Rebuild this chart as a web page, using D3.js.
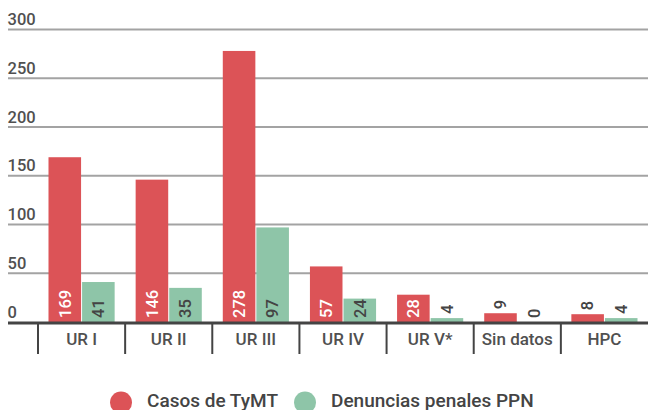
<!DOCTYPE html>
<html>
<head>
<meta charset="utf-8">
<script src="https://cdn.jsdelivr.net/npm/d3@7"></script>
<style>
body{margin:0;background:#fff;}
svg{font-family:Roboto,sans-serif;}
</style>
</head>
<body>
<div id="chart"></div>
<script>
var categories = ["UR I","UR II","UR III","UR IV","UR V*","Sin datos","HPC"];
var casos = [169,146,278,57,28,9,8];
var denuncias = [41,35,97,24,4,0,4];
var seriesNames = ["Casos de TyMT","Denuncias penales PPN"];
var yTicks = [0,50,100,150,200,250,300];

var colors = ["#dc5357","#8ec5a8"];

var W = 648, H = 410;
var svg = d3.select("#chart").append("svg").attr("width",W).attr("height",H);

var y = d3.scaleLinear().domain([0,300]).range([322,29.5]);
var x = d3.scaleBand().domain(categories).range([38,648]).paddingInner(0).paddingOuter(0);
var xs = d3.scaleBand().domain([0,1]).range([10.5,x.bandwidth()-10.5]).paddingInner(0.03);

// gridlines + labels
var grid = svg.append("g");
yTicks.forEach(function(t){
  if(t>0){
    grid.append("line").attr("x1",8).attr("x2",W).attr("y1",y(t)).attr("y2",y(t))
      .attr("stroke","#a3a3a3").attr("stroke-width",2);
  }
  grid.append("text").attr("x",7.5).attr("y",y(t)-4.5).text(t)
    .attr("font-size",16.5).attr("font-weight",500).attr("fill","#505050");
});

// bars
var data = categories.map(function(c,i){ return {cat:c, vals:[casos[i],denuncias[i]]}; });
var groups = svg.append("g").selectAll("g").data(data).enter().append("g")
  .attr("transform",function(d){ return "translate("+x(d.cat)+",0)"; });

groups.each(function(d){
  var g = d3.select(this);
  d.vals.forEach(function(v,s){
    var bx = xs(s), bw = xs.bandwidth();
    g.append("rect").attr("x",bx).attr("width",bw)
      .attr("y",y(v)).attr("height",y(0)-y(v)).attr("fill",colors[s]);
    var inside = (y(0)-y(v)) > 16;
    var cx = bx+bw/2;
    var ty = inside ? y(0)-4 : y(v)-4;
    g.append("text")
      .attr("transform","translate("+cx+","+ty+") rotate(-90)")
      .attr("dy","0.35em")
      .attr("font-size",16.5)
      .attr("font-weight",500)
      .attr("fill", inside && s==0 ? "#fff" : "#444")
      .text(v);
  });
});

// x axis
var axis = svg.append("g");
axis.append("line").attr("x1",8).attr("x2",W).attr("y1",y(0)+1).attr("y2",y(0)+1)
  .attr("stroke","#444").attr("stroke-width",3);
categories.forEach(function(c,i){
  axis.append("line").attr("x1",x(c)).attr("x2",x(c)).attr("y1",y(0)).attr("y2",354)
    .attr("stroke","#444").attr("stroke-width",2);
  axis.append("text").attr("x",x(c)+x.bandwidth()/2).attr("y",345)
    .attr("text-anchor","middle").attr("font-size",17).attr("font-weight",500)
    .attr("fill","#505050").text(c);
});

// legend
var legX = [121,305];
seriesNames.forEach(function(n,i){
  svg.append("circle").attr("cx",legX[i]).attr("cy",402.5).attr("r",11).attr("fill",colors[i]);
  svg.append("text").attr("x",legX[i]+26).attr("y",407).attr("font-size",19)
    .attr("font-weight",500).attr("fill","#444").text(n);
});
</script>
</body>
</html>
